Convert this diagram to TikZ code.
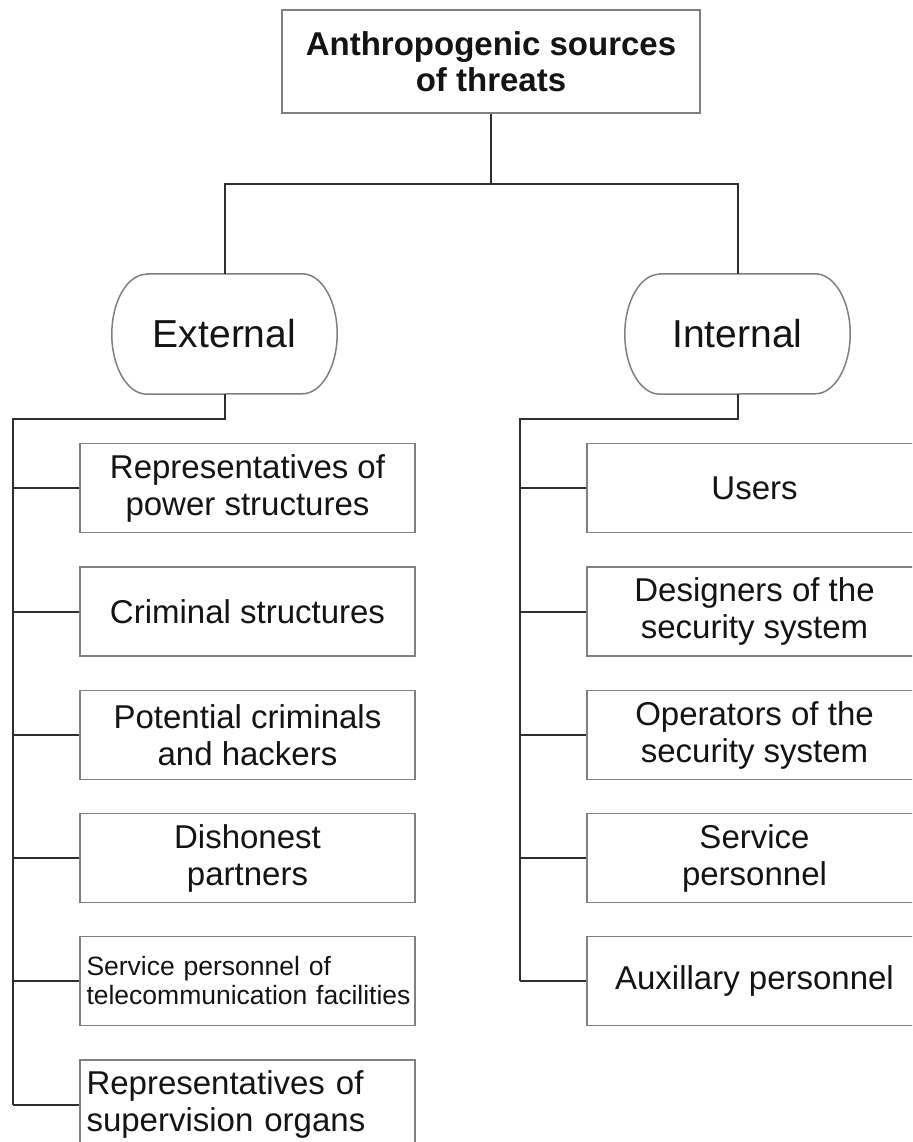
\documentclass[tikz,border=0pt]{standalone}
\usepackage{fontspec}
\setmainfont{Liberation Sans}
\definecolor{boxline}{gray}{0.5}
\definecolor{conn}{gray}{0.18}
\definecolor{txt}{gray}{0.08}
\begin{document}
\begin{tikzpicture}[x=1pt,y=-1pt,
  itembox/.style={draw=boxline,line width=1.5pt,fill=white,minimum width=335pt,minimum height=89pt,inner sep=0pt,align=center,text=txt,font=\fontsize{33}{37}\selectfont},
  leftbox/.style={itembox,align=left,text width=322pt,inner xsep=6.5pt},
  groupbox/.style={minimum width=225pt,minimum height=120pt,inner sep=0pt,text=txt,font=\fontsize{39}{44}\selectfont},
  stadium/.style={draw=boxline,line width=1.5pt},
  link/.style={draw=conn,line width=2pt}]
\useasboundingbox (0,0) rectangle (912,1142);
\clip (0,0) rectangle (912,1142);
\fill[white] (0,0) rectangle (912,1142);

% top
\node[itembox,minimum width=418pt,minimum height=103pt,font=\bfseries\fontsize{33}{36}\selectfont] (top) at (491,61.5) {Anthropogenic sources\\of threats};
\coordinate (j) at (491,184);

\node[groupbox] (ext) at (224.5,334) {External};
\node[groupbox] (int) at (737.5,334) {Internal};
\foreach \n in {ext,int}
  \draw[stadium] ([xshift=35pt]\n.north west) -- ([xshift=-35pt]\n.north east)
    arc[start angle=90,end angle=-90,x radius=35pt,y radius=60pt]
    -- ([xshift=35pt]\n.south west)
    arc[start angle=270,end angle=90,x radius=35pt,y radius=60pt] -- cycle;

\draw[link] (top.south) -- (j);
\draw[link] (ext.north) |- (j);
\draw[link] (int.north) |- (j);

% left column
\node[itembox] (l1) at (247.5,488) {Representatives of\\power structures};
\node[itembox] (l2) at (247.5,611.5) {Criminal structures};
\node[itembox] (l3) at (247.5,735) {Potential criminals\\and hackers};
\node[itembox] (l4) at (247.5,858) {Dishonest\\partners};
\node[leftbox,font=\fontsize{26.5}{29}\selectfont] (l5) at (247.5,981) {\mbox{Service personnel of}\\\mbox{telecommunication facilities}};
\node[leftbox] (l6) at (247.5,1104.5) {Representatives of\\supervision organs};

\coordinate (ej) at (13,419);
\draw[link] (ext.south) |- (ej) -- (ej |- l6.west);
\foreach \n in {l1,l2,l3,l4,l5,l6} \draw[link] (\n.west) -- (\n.west -| ej);

% right column
\node[itembox] (r1) at (754.5,488) {Users};
\node[itembox] (r2) at (754.5,611.5) {Designers of the\\security system};
\node[itembox] (r3) at (754.5,735) {Operators of the\\security system};
\node[itembox] (r4) at (754.5,858) {Service\\personnel};
\node[itembox] (r5) at (754.5,981) {Auxillary personnel};

\coordinate (ij) at (520,419);
\draw[link] (int.south) |- (ij) -- (ij |- r5.west);
\foreach \n in {r1,r2,r3,r4,r5} \draw[link] (\n.west) -- (\n.west -| ij);
\end{tikzpicture}
\end{document}
